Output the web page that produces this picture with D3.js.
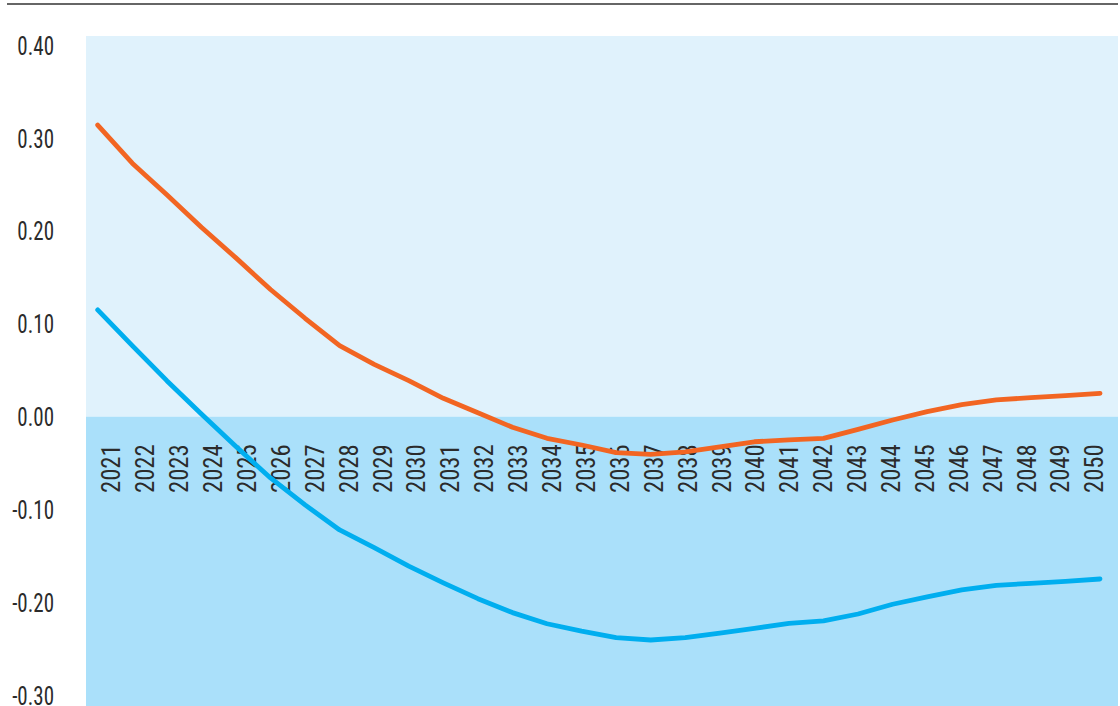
<!DOCTYPE html>
<html>
<head>
<meta charset="utf-8">
<script src="https://cdn.jsdelivr.net/npm/d3@7"></script>
<style>
  html, body { margin: 0; padding: 0; background: #fff; }
  svg { display: block; }
  text { font-family: "Liberation Sans Narrow", "Roboto Condensed", "Liberation Sans", sans-serif; fill: #2b2b2b; }
</style>
</head>
<body>
<svg id="chart" width="1120" height="706"></svg>
<script>
const years = d3.range(2021, 2051).map(String);
const orangeValues = [0.314, 0.273, 0.239, 0.204, 0.171, 0.137, 0.106, 0.0765, 0.0564, 0.0388, 0.0198, 0.0043,
  -0.0114, -0.0233, -0.0305, -0.0388, -0.0405, -0.038, -0.0325, -0.027, -0.025, -0.0233, -0.0136, -0.0036,
  0.0054, 0.0129, 0.018, 0.0205, 0.0226, 0.0252];
const blueValues = [0.115, 0.0765, 0.0388, 0.003, -0.032, -0.066, -0.095, -0.122, -0.141, -0.161, -0.179, -0.196,
  -0.211, -0.223, -0.231, -0.238, -0.2405, -0.238, -0.233, -0.228, -0.2225, -0.220, -0.2125, -0.202,
  -0.194, -0.1866, -0.1816, -0.1795, -0.1773, -0.1748];
const yTicks = [0.4, 0.3, 0.2, 0.1, 0.0, -0.1, -0.2, -0.3];

const svg = d3.select("#chart");
const plot = { left: 86, right: 1118, top: 36, bottom: 706 };

const y = d3.scaleLinear().domain([-0.3116, 0.41]).range([plot.bottom, plot.top]);
const x = d3.scalePoint().domain(years).range([97.7, 1100]);
const xLab = d3.scalePoint().domain(years).range([111, 1094]);

// top rule
svg.append("line").attr("x1", 7).attr("x2", 1118).attr("y1", 4).attr("y2", 4)
  .attr("stroke", "#333").attr("stroke-width", 1.6);

// backgrounds
svg.append("rect").attr("x", plot.left).attr("y", plot.top)
  .attr("width", plot.right - plot.left).attr("height", y(0) - plot.top).attr("fill", "#e0f2fc");
svg.append("rect").attr("x", plot.left).attr("y", y(0))
  .attr("width", plot.right - plot.left).attr("height", plot.bottom - y(0)).attr("fill", "#aae0fa");

// y axis labels
const fmt = d => d3.format(".2f")(d).replace("\u2212", "-");
const yAxis = d3.axisLeft(y).tickValues(yTicks).tickFormat(fmt).tickSize(0).tickPadding(0);
const yg = svg.append("g").attr("transform", "translate(54,0) scale(0.84,1)").call(yAxis);
yg.select(".domain").remove();
yg.selectAll("text").attr("font-size", 25).attr("fill", "#2b2b2b")
  .style("font-family", '"Liberation Sans Narrow", "Roboto Condensed", sans-serif')
  .attr("dy", "0.36em");

// x labels (rotated)
const xg = svg.append("g");
xg.selectAll("text").data(years).join("text")
  .attr("transform", d => `translate(${xLab(d)},493) rotate(-90) scale(0.95,1)`)
  .attr("dy", "0.36em")
  .attr("text-anchor", "start")
  .attr("font-size", 26)
  .text(d => d);

// lines
const line = d3.line().x((d, i) => x(years[i])).y(d => y(d));
svg.append("path").datum(orangeValues).attr("d", line)
  .attr("fill", "none").attr("stroke", "#f26522").attr("stroke-width", 4.8)
  .attr("stroke-linecap", "round").attr("stroke-linejoin", "round");
svg.append("path").datum(blueValues).attr("d", line)
  .attr("fill", "none").attr("stroke", "#00aeef").attr("stroke-width", 4.8)
  .attr("stroke-linecap", "round").attr("stroke-linejoin", "round");
</script>
</body>
</html>
